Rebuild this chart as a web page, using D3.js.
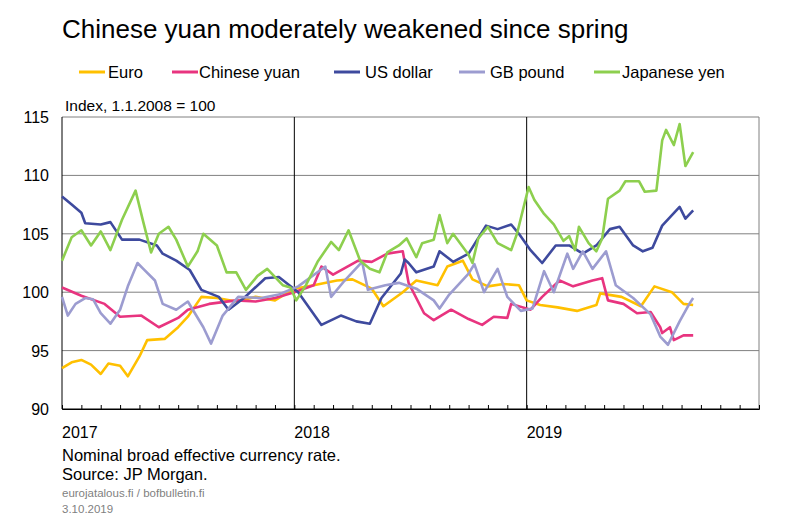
<!DOCTYPE html>
<html><head><meta charset="utf-8">
<script src="https://cdn.jsdelivr.net/npm/d3@7"></script>
<style>body{margin:0;background:#fff}text{font-family:Arial,"Liberation Sans",sans-serif}</style>
</head><body><svg id="c" width="801" height="524"></svg>
<script>
// month offset from 1 Jan 2017, index value
const euro=[[0,93.5],[0.5,94],[1,94.2],[1.5,93.8],[2,93],[2.4,93.9],[3,93.7],[3.4,92.8],[4,94.5],[4.4,95.9],[5.3,96],[6,97],[6.5,97.9],[7.2,99.6],[8,99.5],[9,99.2],[10,99.6],[11,99.3],[12,100.3],[13,100.6],[14.2,101],[15,101.1],[16,100.3],[16.6,98.8],[17.6,100],[18.3,101],[19.4,100.6],[19.9,102.2],[20.7,102.7],[21.2,101.1],[22,100.5],[22.8,100.7],[23.6,100.6],[24,99.3],[24.7,98.9],[25.6,98.7],[26.6,98.4],[27.6,98.9],[27.8,99.9],[28.9,99.6],[29.9,98.8],[30.6,100.5],[31.5,100],[32.1,99],[32.6,98.9]];
const yuan=[[0,100.4],[1,99.7],[2.2,99],[3,97.9],[4.1,98],[5,97],[6,97.8],[6.5,98.5],[7.6,99],[9,99.3],[10,99.2],[11,99.5],[12,100],[13,100.6],[13.4,102.2],[14,101.5],[15.3,102.7],[16,102.6],[16.8,103.3],[17.6,103.5],[17.9,100.8],[18.7,98.2],[19.2,97.6],[20.1,98.5],[21,97.7],[21.7,97.2],[22.3,97.9],[23,97.8],[23.2,99],[24.2,98.5],[24.8,99.6],[25.7,101],[26.4,100.5],[27.4,101],[27.9,101.2],[28.2,99.3],[29,99],[29.7,98.2],[30.4,98.3],[30.9,97],[31,96.5],[31.4,97],[31.6,95.9],[32.1,96.3],[32.6,96.3]];
const usd=[[0,108.2],[0.5,107.5],[1,106.8],[1.2,105.9],[2,105.8],[2.5,106],[3.1,104.5],[4,104.5],[4.9,104],[5.2,103.3],[5.9,102.7],[6.6,101.9],[7.2,100.2],[8.1,99.6],[8.6,98.5],[9.4,99.5],[10.5,101.2],[11.2,101.3],[12.2,100],[13.4,97.2],[14.4,98],[15.2,97.5],[15.9,97.3],[16.5,99.5],[17.5,101.6],[17.7,102.8],[17.9,102.5],[18.3,101.7],[19.2,102.2],[19.5,103.5],[20.2,102.6],[21,103.3],[21.9,105.7],[22.5,105.4],[23.2,105.8],[23.6,105],[24.2,103.6],[24.8,102.5],[25.5,104],[26.2,104],[26.9,103.3],[27.6,104],[28.3,105.4],[28.8,105.6],[29.5,104],[30,103.5],[30.5,103.8],[31,105.7],[31.9,107.3],[32.2,106.3],[32.6,107]];
const gbp=[[0,99.6],[0.3,98],[0.7,99],[1.2,99.5],[1.6,99.4],[2,98.2],[2.5,97.3],[3,98.5],[3.4,100.5],[3.9,102.5],[4.2,102],[4.8,101],[5.2,99],[5.9,98.5],[6.5,99.2],[7.3,97],[7.7,95.6],[8.3,98],[9.1,99.6],[10.3,99.5],[11.2,99.8],[12.2,100.5],[13.6,102.2],[13.9,99.6],[14.6,101],[15.5,102.6],[15.8,100.2],[16.7,100.6],[17.4,100.8],[18.3,100.3],[19.2,99.3],[19.5,98.6],[20,99.8],[21,101.6],[21.3,102.4],[21.8,100],[22.5,102],[23,99.6],[23.7,98.4],[24.3,98.6],[24.9,101.8],[25.4,100],[26.1,103.3],[26.4,102],[26.9,103.5],[27.4,102],[28.1,103.5],[28.6,100.6],[29.5,99.5],[30.4,98.1],[30.9,96.2],[31.3,95.5],[31.9,97.5],[32.4,99],[32.6,99.5]];
const jpy=[[0,102.7],[0.5,104.7],[1,105.3],[1.5,104],[2,105.2],[2.5,103.6],[3.1,106.2],[3.8,108.7],[4.2,106],[4.6,103.4],[5,105],[5.5,105.6],[5.9,104.5],[6.5,102.2],[7,103.5],[7.3,105],[8,104],[8.5,101.7],[9,101.7],[9.5,100.2],[10.1,101.4],[10.6,102],[11.4,100.6],[11.8,100.4],[12.1,99.3],[12.6,100.6],[13.2,102.6],[13.9,104.3],[14.3,103.6],[14.8,105.3],[15.4,102.7],[15.9,102],[16.4,101.7],[16.8,103.4],[17.4,104],[17.8,104.6],[18.3,103],[18.6,104.2],[19.2,104.5],[19.5,106.6],[19.9,104.2],[20.2,105],[21,103.2],[21.2,102.5],[21.5,104.6],[22,105.6],[22.5,104.2],[23.2,103.6],[23.5,105],[24.1,109],[24.4,107.9],[24.9,106.7],[25.4,105.8],[25.9,104.4],[26.2,104.8],[26.5,103.6],[26.7,105.6],[27.2,104.2],[27.6,103.5],[27.9,104.6],[28.2,108],[28.8,108.7],[29.1,109.5],[29.8,109.5],[30.1,108.6],[30.7,108.7],[31,113],[31.2,113.9],[31.6,112.6],[31.9,114.4],[32.2,110.8],[32.6,112]];
const seriesNames=["Euro","Chinese yuan","US dollar","GB pound","Japanese yen"];
const seriesColors=["#FFC000","#E8347F","#3E4A9E","#9C9CD0","#8DCF4E"];
const yTicks=[90,95,100,105,110,115];
const yearLabels=["2017","2018","2019"];

const svg=d3.select("#c");
const L=62,R=759,T=117,B=409;
const x=d3.scaleLinear().domain([0,36]).range([L,R]);
const y=d3.scaleLinear().domain([90,115]).range([B,T]);

svg.append("text").attr("x",62).attr("y",38).attr("font-size",26).attr("fill","#000").text("Chinese yuan moderately weakened since spring");
const legX=[[79,108],[172,199],[334,365],[459,490],[594,622]];
seriesNames.forEach((n,i)=>{
  svg.append("line").attr("x1",legX[i][0]).attr("x2",legX[i][0]+26).attr("y1",72).attr("y2",72).attr("stroke",seriesColors[i]).attr("stroke-width",3);
  svg.append("text").attr("x",legX[i][1]).attr("y",78).attr("font-size",16.5).text(n);
});
svg.append("text").attr("x",65).attr("y",111).attr("font-size",15.5).text("Index, 1.1.2008 = 100");

yTicks.forEach(v=>{
  svg.append("line").attr("x1",L).attr("x2",R).attr("y1",y(v)).attr("y2",y(v)).attr("stroke",v===90?"#000":"#808080").attr("stroke-width",1);
  svg.append("text").attr("x",49).attr("y",y(v)+6).attr("text-anchor","end").attr("font-size",16).text(v);
});
[0,12,24].forEach((m,i)=>{
  svg.append("line").attr("x1",x(m)).attr("x2",x(m)).attr("y1",T).attr("y2",B).attr("stroke","#000");
  svg.append("text").attr("x",x(m)).attr("y",438).attr("font-size",16).text(yearLabels[i]);
});
svg.append("line").attr("x1",R).attr("x2",R).attr("y1",T).attr("y2",B).attr("stroke","#808080");
const axis=d3.axisBottom(x).tickValues(d3.range(0,37)).tickSize(-4).tickFormat("");
const g=svg.append("g").attr("transform",`translate(0,${B})`).call(axis);
g.select(".domain").attr("stroke","#000");g.selectAll(".tick line").attr("stroke","#000");

const line=d3.line().x(d=>x(d[0])).y(d=>y(d[1]));
[euro,yuan,usd,gbp,jpy].forEach((s,i)=>{
  svg.append("path").datum(s).attr("d",line).attr("fill","none").attr("stroke",seriesColors[i]).attr("stroke-width",2.6).attr("stroke-linejoin","round");
});

svg.append("text").attr("x",62).attr("y",461).attr("font-size",16.5).text("Nominal broad effective currency rate.");
svg.append("text").attr("x",62).attr("y",480).attr("font-size",16.5).text("Source: JP Morgan.");
svg.append("text").attr("x",62).attr("y",497).attr("font-size",11.5).attr("fill","#7f7f7f").text("eurojatalous.fi / bofbulletin.fi");
svg.append("text").attr("x",62).attr("y",513).attr("font-size",11.5).attr("fill","#7f7f7f").text("3.10.2019");
</script></body></html>
